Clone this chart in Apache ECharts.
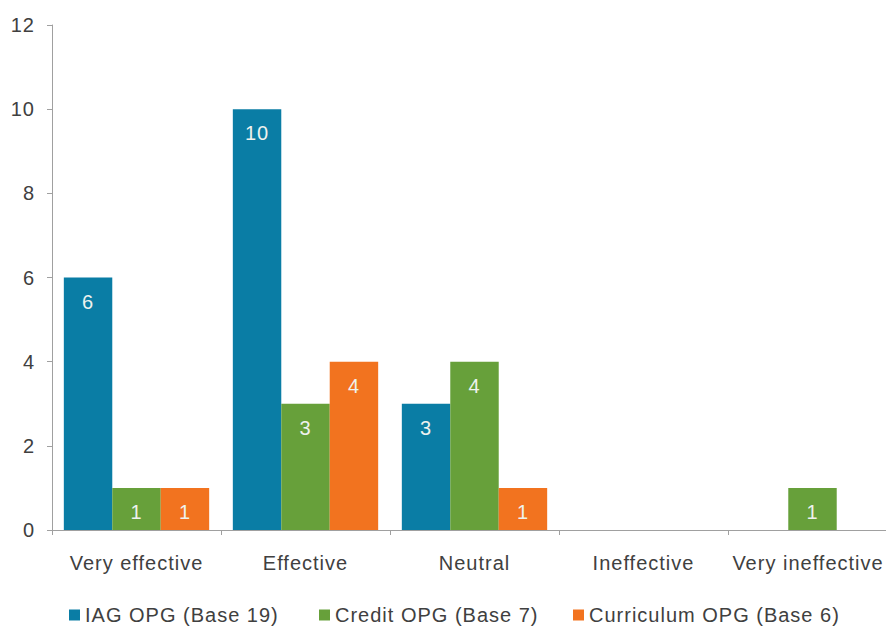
<!DOCTYPE html>
<html>
<head>
<meta charset="utf-8">
<script src="https://cdn.jsdelivr.net/npm/echarts@6/dist/echarts.min.js"></script>
<style>
  html, body { margin: 0; padding: 0; background: #fff; }
  #chart { width: 886px; height: 628px; }
  #chart text { letter-spacing: 1px; }
</style>
</head>
<body>
<div id="chart"></div>
<script>
// data
var categories = ['Very effective', 'Effective', 'Neutral', 'Ineffective', 'Very ineffective'];
var seriesNames = ['IAG OPG (Base 19)', 'Credit OPG (Base 7)', 'Curriculum OPG (Base 6)'];
var iagValues = [6, 10, 3, null, null];
var creditValues = [1, 3, 4, null, 1];
var curriculumValues = [1, 4, 1, null, null];
var yTicks = [0, 2, 4, 6, 8, 10, 12];

var colors = ['#0A7DA5', '#67A03A', '#F2731F'];
var ink = '#404040';
var axisGray = '#A0A0A0';
var font = 'Liberation Sans, Arial, sans-serif';
var legendLefts = [69, 319, 573];

var chart = echarts.init(document.getElementById('chart'), null, { renderer: 'svg' });

function barSeries(name, data, color) {
  return {
    name: name,
    type: 'bar',
    data: data,
    barGap: '0%',
    barCategoryGap: '14%',
    itemStyle: { color: color },
    label: {
      show: true,
      position: 'insideTop',
      distance: 14,
      color: '#EEF2EE',
      fontSize: 20,
      fontFamily: font
    }
  };
}

// one legend box per series so each can sit where the reference has it
var legends = seriesNames.map(function(n, i) {
  return {
    data: [n],
    top: 605,
    left: legendLefts[i],
    padding: 0,
    itemWidth: 11,
    itemHeight: 11,
    icon: 'rect',
    textStyle: { color: ink, fontSize: 20, fontFamily: font }
  };
});

// the last label sits a little left so it stays inside the picture
var xData = categories.map(function(c, i) {
  if (i === categories.length - 1) {
    return { value: c, textStyle: { padding: [0, 9, 0, 0] } };
  }
  return c;
});

chart.setOption({
  animation: false,
  textStyle: { fontFamily: font },
  grid: {
    left: 52, width: 845, top: 25, bottom: 98,
    containLabel: false, outerBoundsMode: 'none'
  },
  legend: legends,
  xAxis: {
    type: 'category',
    data: xData,
    axisLine: { lineStyle: { color: axisGray } },
    axisTick: { show: true, length: 5, inside: false, lineStyle: { color: axisGray } },
    axisLabel: { color: ink, fontSize: 20, margin: 23, fontFamily: font, interval: 0 },
    splitLine: { show: false }
  },
  yAxis: {
    type: 'value',
    min: yTicks[0],
    max: yTicks[yTicks.length - 1],
    interval: 2,
    axisLine: { show: true, lineStyle: { color: axisGray } },
    axisTick: { show: true, length: 5, lineStyle: { color: axisGray } },
    axisLabel: { color: ink, fontSize: 20, margin: 17, fontFamily: font },
    splitLine: { show: false }
  },
  series: [
    barSeries(seriesNames[0], iagValues, colors[0]),
    barSeries(seriesNames[1], creditValues, colors[1]),
    barSeries(seriesNames[2], curriculumValues, colors[2])
  ]
});
</script>
</body>
</html>
